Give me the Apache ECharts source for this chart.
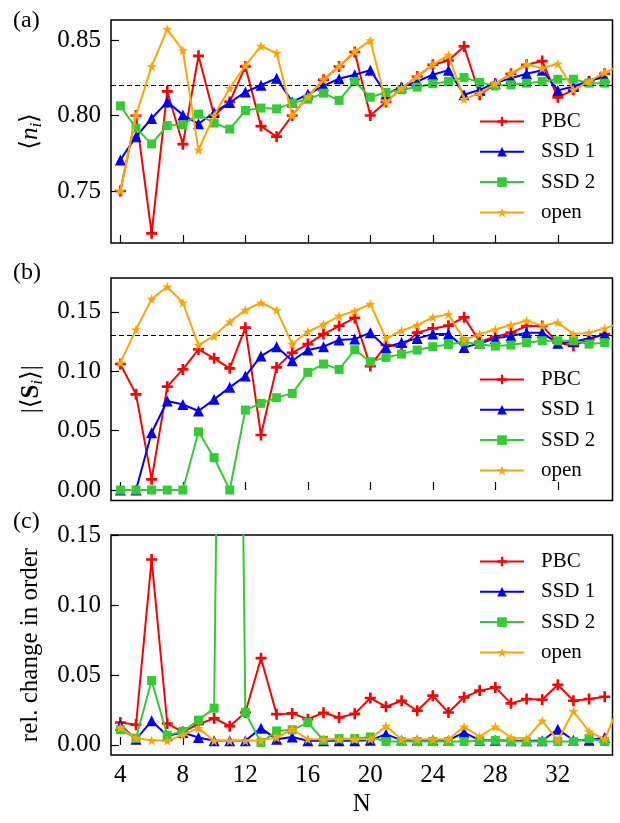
<!DOCTYPE html>
<html><head><meta charset="utf-8">
<script src="https://cdn.jsdelivr.net/npm/echarts@6/dist/echarts.min.js"></script>
<style>html,body{margin:0;padding:0;background:#fff}#c{width:620px;height:823px}</style>
</head><body><div id="c"></div>
<script>
// ---- data ----
const sizes = [4,5,6,7,8,9,10,11,12,13,14,15,16,17,18,19,20,21,22,23,24,25,26,27,28,29,30,31,32,33,34,35];
const sizesOpen = [4,5,6,7,8,9,10,11,12,13,14,15,16,17,18,19,20,21,22,23,24,25,26,27,28,29,30,31,32,33,34,35,36];

// panel (a) <n_i>
const pbcN  = [0.750,0.800,0.722,0.816,0.781,0.8395,0.800,0.809,0.8325,0.793,0.786,0.800,0.8126,0.8236,0.8325,0.842,0.800,0.809,0.818,0.8258,0.8336,0.8364,0.8457,0.8137,0.821,0.8276,0.8336,0.836,0.812,0.817,0.8225,0.8276];
const ssd1N = [0.7706,0.786,0.798,0.809,0.8004,0.7945,0.802,0.8086,0.8155,0.820,0.8247,0.809,0.814,0.8196,0.8243,0.827,0.830,0.8143,0.8188,0.8225,0.827,0.830,0.8137,0.817,0.8214,0.8247,0.8276,0.830,0.8166,0.8192,0.823,0.8254];
const ssd2N = [0.8064,0.7916,0.7812,0.7934,0.7938,0.8009,0.795,0.791,0.8033,0.8049,0.8044,0.8082,0.8108,0.8148,0.810,0.8225,0.8121,0.8152,0.817,0.8188,0.821,0.8225,0.8252,0.8219,0.8196,0.8203,0.8214,0.8225,0.824,0.824,0.8214,0.8214];
const openN = [0.750,0.800,0.8325,0.857,0.843,0.7773,0.800,0.818,0.833,0.846,0.8413,0.800,0.8126,0.8236,0.8325,0.8424,0.8497,0.8088,0.818,0.8258,0.8336,0.840,0.8108,0.8148,0.821,0.8276,0.834,0.8313,0.8342,0.817,0.8225,0.8285,0.833];
const refN = 0.8232;

// panel (b) |<S_i>|
const pbcS  = [0.106,0.0805,0.009,0.087,0.1015,0.1183,0.1108,0.1024,0.1366,0.0463,0.1032,0.1155,0.1228,0.1312,0.138,0.1448,0.1043,0.122,0.1206,0.1324,0.136,0.1383,0.1453,0.1248,0.129,0.1324,0.138,0.138,0.124,0.1214,0.1268,0.1312];
const ssd1S = [0,0,0.0482,0.0749,0.072,0.0665,0.0763,0.0864,0.0959,0.1127,0.1206,0.1088,0.1178,0.1206,0.1262,0.127,0.1324,0.12,0.1242,0.1276,0.1312,0.1312,0.12,0.1234,0.1276,0.1296,0.1324,0.1324,0.1234,0.1248,0.1276,0.1312];
const ssd2S = [0,0,0,0,0,0.049,0.0272,0,0.0673,0.0729,0.0777,0.0813,0.099,0.106,0.1015,0.118,0.108,0.1116,0.1144,0.1178,0.1206,0.1225,0.1248,0.1225,0.1211,0.122,0.124,0.1256,0.1256,0.1256,0.1228,0.124];
const openS = [0.107,0.135,0.1607,0.171,0.1576,0.122,0.1296,0.1416,0.1514,0.1576,0.1514,0.1228,0.1332,0.1394,0.1464,0.1505,0.1565,0.1276,0.134,0.1388,0.1453,0.1478,0.1262,0.1312,0.135,0.1388,0.1425,0.1383,0.141,0.1312,0.1324,0.136,0.1405];
const refS = 0.129;

// panel (c) rel. change in order
const pbcR  = [0.016,0.0144,0.1325,0.0153,0.0093,0.0148,0.019,0.0134,0.0232,0.062,0.022,0.0225,0.0184,0.023,0.0196,0.0222,0.0335,0.0273,0.0316,0.0244,0.0352,0.0232,0.034,0.0388,0.0411,0.0297,0.0328,0.0323,0.043,0.0316,0.0328,0.0344];
const ssd1R = [0.014,0.004,0.0172,0.0065,0.0089,0.0053,0.003,0.003,0.003,0.012,0.004,0.0057,0.003,0.003,0.003,0.003,0.0033,0.0077,0.0033,0.0033,0.0033,0.0033,0.0089,0.0033,0.0033,0.003,0.003,0.003,0.0112,0.0033,0.0033,0.0053];
const ssd2R = [0.0108,0.0048,0.046,0.007,0.0096,0.0177,0.0263,1.0,0.0232,0.0017,0.010,0.0108,0.016,0.0033,0.0045,0.0045,0.0057,0.0024,0.0024,0.0024,0.0024,0.0024,0.0024,0.0029,0.0033,0.0024,0.0024,0.0024,0.0024,0.0024,0.0045,0.0024];
const openR = [0.0124,0.0048,0.0033,0.0029,0.0072,0.012,0.003,0.003,0.003,0.0033,0.0053,0.0112,0.004,0.004,0.004,0.004,0.004,0.0136,0.004,0.004,0.004,0.004,0.013,0.006,0.013,0.0053,0.0045,0.0172,0.0033,0.024,0.0096,0.004,0.03];

// ticks
const xTicks = [4,8,12,16,20,24,28,32];
const yTicksA = [0.75,0.80,0.85];
const yTicksB = [0.00,0.05,0.10,0.15];
const yTicksC = [0.00,0.05,0.10,0.15];
const names = ['PBC','SSD 1','SSD 2','open'];

// ---- chart ----
const FONT = '"Liberation Serif","DejaVu Serif",serif';
const PLUS = 'path://M3.8,0h2.4v3.8h3.8v2.4h-3.8v3.8h-2.4v-3.8h-3.8v-2.4h3.8z';
const STAR = 'path://M0,-10L2.351,-3.236L9.511,-3.09L3.804,1.236L5.878,8.09L0,4L-5.878,8.09L-3.804,1.236L-9.511,-3.09L-2.351,-3.236Z';
const styles = [
  {color:'#ff0000', symbol:PLUS, size:11},
  {color:'#0000ff', symbol:'triangle', size:11},
  {color:'#33cc33', symbol:'rect', size:9},
  {color:'#ffa500', symbol:STAR, size:10}
];
const panels = [
  {data:[pbcN,ssd1N,ssd2N,openN], ref:refN, min:0.7156, max:0.8632, ticks:yTicksA,
   name:'⟨{it|n}{sub|i}⟩', gap:66},
  {data:[pbcS,ssd1S,ssd2S,openS], ref:refS, min:-0.0088, max:0.1784, ticks:yTicksB,
   name:'|⟨{b|S}{sub|i}⟩|', gap:64},
  {data:[pbcR,ssd1R,ssd2R,openR], ref:null, min:-0.0072, max:0.15, ticks:yTicksC,
   name:'rel. change in order', gap:68}
];
const grids = [
  {left:111, top:20, width:501.5, height:223},
  {left:111, top:278, width:501.5, height:222.5},
  {left:111, top:535, width:501.5, height:220}
];
const legendTops = [111, 369, 551];

const rich = {
  it:{fontFamily:FONT, fontSize:25, fontStyle:'italic', color:'#000', lineHeight:30},
  b:{fontFamily:FONT, fontSize:25, fontWeight:'bold', color:'#000', lineHeight:30},
  sub:{fontFamily:FONT, fontSize:17, fontStyle:'italic', color:'#000', lineHeight:18, verticalAlign:'bottom'}
};

const xAxis = grids.map((g,i)=>({
  type:'value', gridIndex:i, min:3.4, max:35.5,
  axisLine:{show:false}, splitLine:{show:false},
  axisTick:{show:true, inside:true, length:8, lineStyle:{color:'#000', width:1.2}, customValues:xTicks},
  axisLabel:{show:i===2, customValues:xTicks, margin:8, fontFamily:FONT, fontSize:25, color:'#000'},
  name: i===2 ? 'N' : '', nameLocation:'middle', nameGap:37,
  nameTextStyle:{fontFamily:FONT, fontSize:25, color:'#000'}
}));
const yAxis = panels.map((p,i)=>({
  type:'value', gridIndex:i, min:p.min, max:p.max,
  axisLine:{show:false}, splitLine:{show:false},
  axisTick:{show:true, inside:true, length:8, lineStyle:{color:'#000', width:1.2}, customValues:p.ticks},
  axisLabel:{customValues:p.ticks, margin:10, fontFamily:FONT, fontSize:25, color:'#000',
    formatter:(v)=>v.toFixed(2)},
  name:p.name, nameLocation:'middle', nameRotate:90, nameGap:p.gap,
  nameTextStyle:{fontFamily:FONT, fontSize:25, color:'#000', rich:rich}
}));

const series = [];
panels.forEach((p,pi)=>{
  p.data.forEach((vals,si)=>{
    const xs = si===3 ? sizesOpen : sizes;
    const st = styles[si];
    const s = {
      type:'line', name:names[si], xAxisIndex:pi, yAxisIndex:pi,
      data: vals.map((v,k)=>[xs[k], v]),
      symbol:st.symbol, symbolSize:st.size, showAllSymbol:true,
      lineStyle:{color:st.color, width:2}, itemStyle:{color:st.color},
      emphasis:{disabled:true}, animation:false, clip:true, z:2+si
    };
    if (si===0 && p.ref!==null) {
      s.markLine = {silent:true, symbol:'none', animation:false,
        lineStyle:{color:'#000', type:[5,3], width:1.2}, label:{show:false},
        data:[{yAxis:p.ref}]};
    }
    series.push(s);
  });
});

const legend = legendTops.map(t=>({
  orient:'vertical', left:479, top:t, itemWidth:44, itemHeight:12, itemGap:9.3, padding:0,
  selectedMode:false, data:names,
  textStyle:{fontFamily:FONT, fontSize:21, color:'#000', lineHeight:21, padding:[0,0,0,12]}
}));

const chart = echarts.init(document.getElementById('c'), null, {renderer:'canvas'});
chart.setOption({
  backgroundColor:'#fff',
  animation:false,
  grid: grids.map(g=>Object.assign({show:true, borderColor:'#000', borderWidth:1.5, backgroundColor:'transparent', outerBoundsMode:'none'}, g)),
  xAxis, yAxis, series, legend,
  graphic:[
    {type:'text', left:13, top:9, style:{text:'(a)', font:'24px "Liberation Serif"', fill:'#000'}},
    {type:'text', left:13, top:261, style:{text:'(b)', font:'24px "Liberation Serif"', fill:'#000'}},
    {type:'text', left:13, top:510, style:{text:'(c)', font:'24px "Liberation Serif"', fill:'#000'}}
  ]
});
</script></body></html>
